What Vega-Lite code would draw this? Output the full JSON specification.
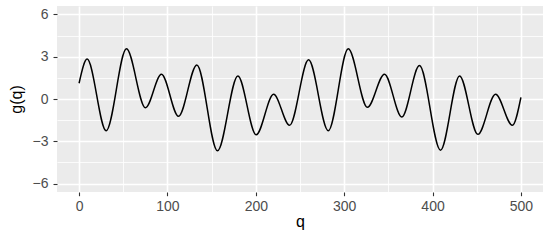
{
  "$schema": "https://vega.github.io/schema/vega-lite/v6.json",
  "autosize": {"type": "none"},
  "width": 486,
  "height": 186,
  "padding": {"left": 57, "top": 6, "right": 7, "bottom": 48},
  "background": "white",
  "config": {
    "view": {"fill": "#EBEBEB", "stroke": null},
    "font": "Liberation Sans"
  },
  "data": {
    "values": [
      {"q": 0, "g": 1.12},
      {"q": 9.1, "g": 2.83},
      {"q": 30.6, "g": -2.25},
      {"q": 53.6, "g": 3.56},
      {"q": 75.1, "g": -0.62},
      {"q": 93.2, "g": 1.76},
      {"q": 112.5, "g": -1.23},
      {"q": 133.3, "g": 2.42},
      {"q": 156.6, "g": -3.68},
      {"q": 179.7, "g": 1.64},
      {"q": 200.4, "g": -2.54},
      {"q": 220.1, "g": 0.33},
      {"q": 238.2, "g": -1.87},
      {"q": 259.7, "g": 2.78},
      {"q": 282, "g": -2.25},
      {"q": 304.6, "g": 3.56},
      {"q": 326.3, "g": -0.59},
      {"q": 345.6, "g": 1.76},
      {"q": 365.2, "g": -1.28},
      {"q": 385.2, "g": 2.37},
      {"q": 409, "g": -3.63},
      {"q": 430.6, "g": 1.64},
      {"q": 451.3, "g": -2.51},
      {"q": 471.3, "g": 0.33},
      {"q": 490.3, "g": -1.87},
      {"q": 500, "g": 0.12}
    ]
  },
  "resolve": {"axis": {"x": "independent", "y": "independent"}},
  "layer": [
    {
      "mark": {"type": "line", "opacity": 0},
      "encoding": {
        "x": {
          "field": "q", "type": "quantitative",
          "scale": {"domain": [-25, 525], "nice": false, "zero": false},
          "axis": {"orient": "top", "values": [50, 150, 250, 350, 450], "labels": false, "ticks": false, "domain": false, "title": null, "grid": true, "gridColor": "white", "gridWidth": 0.8}
        },
        "y": {
          "field": "g", "type": "quantitative",
          "scale": {"domain": [-6.6, 6.6], "nice": false, "zero": false},
          "axis": {"orient": "right", "values": [-4.5, -1.5, 1.5, 4.5], "labels": false, "ticks": false, "domain": false, "title": null, "grid": true, "gridColor": "white", "gridWidth": 0.8}
        }
      }
    },
    {
      "mark": {"type": "line", "color": "black", "strokeWidth": 1.5, "interpolate": "monotone"},
      "encoding": {
        "x": {
          "field": "q", "type": "quantitative",
          "scale": {"domain": [-25, 525], "nice": false, "zero": false},
          "axis": {"orient": "bottom", "values": [0, 100, 200, 300, 400, 500], "grid": true, "gridColor": "white", "gridWidth": 1.6, "domain": false, "tickColor": "#333333", "tickSize": 3.7, "tickWidth": 1.1, "labelColor": "#4D4D4D", "labelFontSize": 14, "labelPadding": 4, "labelBaseline": "top", "title": "q", "titleFontSize": 16, "titleFontWeight": "normal", "titleColor": "black", "titleBaseline": "alphabetic", "titleY": 34, "titleX": 243}
        },
        "y": {
          "field": "g", "type": "quantitative",
          "scale": {"domain": [-6.6, 6.6], "nice": false, "zero": false},
          "axis": {"orient": "left", "values": [-6, -3, 0, 3, 6], "grid": true, "gridColor": "white", "gridWidth": 1.6, "domain": false, "tickColor": "#333333", "tickSize": 4, "tickWidth": 1.1, "labelColor": "#4D4D4D", "labelFontSize": 14, "labelPadding": 5, "title": "g(q)", "titleFontSize": 16, "titleFontWeight": "normal", "titleColor": "black", "titleAngle": -90, "titleBaseline": "middle", "titleAlign": "center", "titleX": -41, "titleY": 93}
        }
      }
    }
  ]
}
